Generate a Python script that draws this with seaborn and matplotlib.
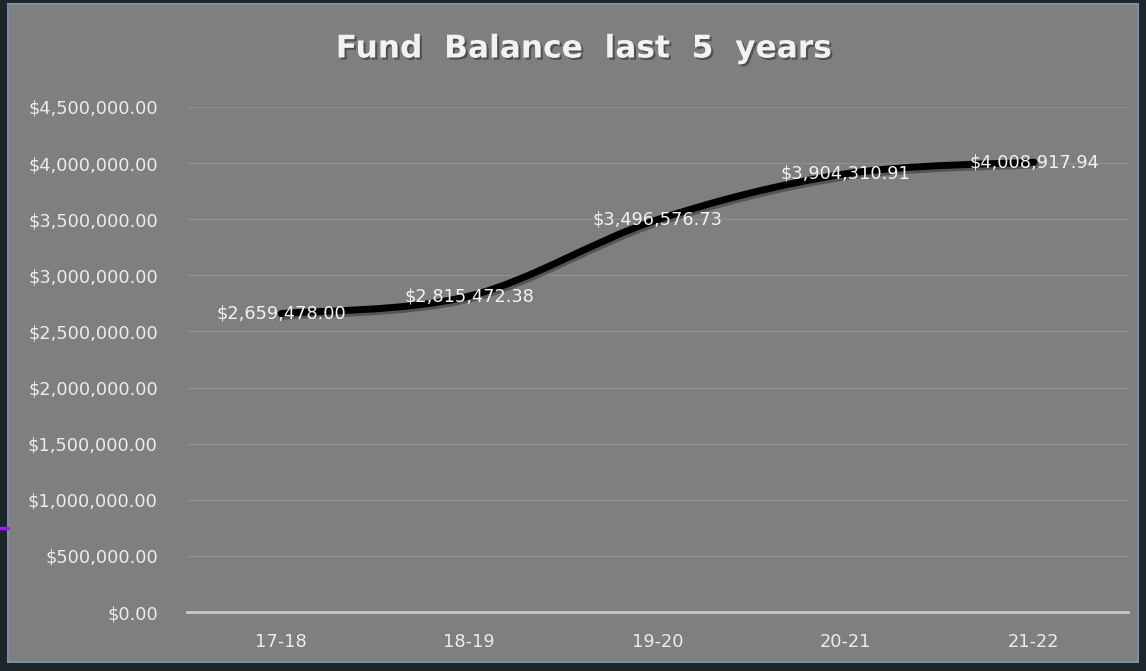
import matplotlib
matplotlib.use("Agg")
import matplotlib.pyplot as plt
import matplotlib.patheffects as pe
from matplotlib.path import Path
from matplotlib.patches import PathPatch, Rectangle
from matplotlib.ticker import FuncFormatter
import seaborn as sns
import numpy as np

years = ["17-18", "18-19", "19-20", "20-21", "21-22"]
balance = [2659478.00, 2815472.38, 3496576.73, 3904310.91, 4008917.94]
y_ticks = [0, 500000, 1000000, 1500000, 2000000, 2500000, 3000000, 3500000, 4000000, 4500000]

panel_gray = "#7f7f7f"
sns.set_theme(style="white")
plt.rcParams["font.family"] = ["DejaVu Sans"]

fig = plt.figure(figsize=(11.46, 6.71), dpi=100, facecolor="#1e2528")
# gray chart panel with thin bluish edge
fig.patches.append(Rectangle((8 / 1146, 9 / 671), 1130 / 1146, 658 / 671,
                             transform=fig.transFigure, facecolor=panel_gray,
                             edgecolor="#7a8fa6", linewidth=1.5, zorder=-10))
fig.lines.append(plt.Line2D([0, 8 / 1146], [143 / 671, 143 / 671], transform=fig.transFigure,
                            color="#9b1cf0", linewidth=2.5, zorder=-5))

ax = fig.add_axes([187 / 1146, 59 / 671, 941 / 1146, 505 / 671])
ax.set_facecolor(panel_gray)

xs = np.arange(len(years))
ys = np.array(balance)

# smooth curve (Excel-like) through the points as cubic Bezier segments
verts = [(xs[0], ys[0])]
codes = [Path.MOVETO]
t = 1 / 6
for i in range(len(xs) - 1):
    p0 = (xs[max(i - 1, 0)], ys[max(i - 1, 0)])
    p1 = (xs[i], ys[i])
    p2 = (xs[i + 1], ys[i + 1])
    p3 = (xs[min(i + 2, len(xs) - 1)], ys[min(i + 2, len(xs) - 1)])
    c1 = (p1[0] + (p2[0] - p0[0]) * t, p1[1] + (p2[1] - p0[1]) * t)
    c2 = (p2[0] - (p3[0] - p1[0]) * t, p2[1] - (p3[1] - p1[1]) * t)
    verts += [c1, c2, p2]
    codes += [Path.CURVE4] * 3
curve = PathPatch(Path(verts, codes), facecolor="none", edgecolor="black", linewidth=5,
                  capstyle="round", joinstyle="round", zorder=3,
                  path_effects=[pe.SimpleLineShadow(offset=(1, -2), shadow_color="#3a3a3a", alpha=0.6),
                                pe.Normal()])
ax.add_patch(curve)

for x, v in zip(xs, balance):
    ax.text(x, v, f"${v:,.2f}", ha="center", va="center", color="#f2f2f2",
            fontsize=12.8, zorder=5)

ax.set_xlim(-0.5, len(years) - 0.5)
ax.set_ylim(0, 4500000)
ax.set_xticks(xs)
ax.set_xticklabels(years)
ax.set_yticks(y_ticks)
ax.yaxis.set_major_formatter(FuncFormatter(lambda v, p: f"${v:,.2f}"))
ax.tick_params(axis="both", colors="#ececec", labelsize=12.8, length=0)
ax.tick_params(axis="y", pad=21)
ax.tick_params(axis="x", pad=15)
ax.grid(axis="y", color="#8e8e8e", linewidth=1)
ax.set_axisbelow(True)
for s in ["top", "right", "left"]:
    ax.spines[s].set_visible(False)
ax.spines["bottom"].set_color("#c8c8c8")
ax.spines["bottom"].set_linewidth(2)

fig.text(584 / 1146, 1 - 49 / 671, "Fund  Balance  last  5  years", ha="center", va="center",
         color="#f2f2f2", fontsize=22.5, fontweight="bold",
         path_effects=[pe.withSimplePatchShadow(offset=(1.5, -1.5), shadow_rgbFace="#3c3c3c", alpha=0.7)])

fig.savefig("out.png", dpi=100, facecolor=fig.get_facecolor())
